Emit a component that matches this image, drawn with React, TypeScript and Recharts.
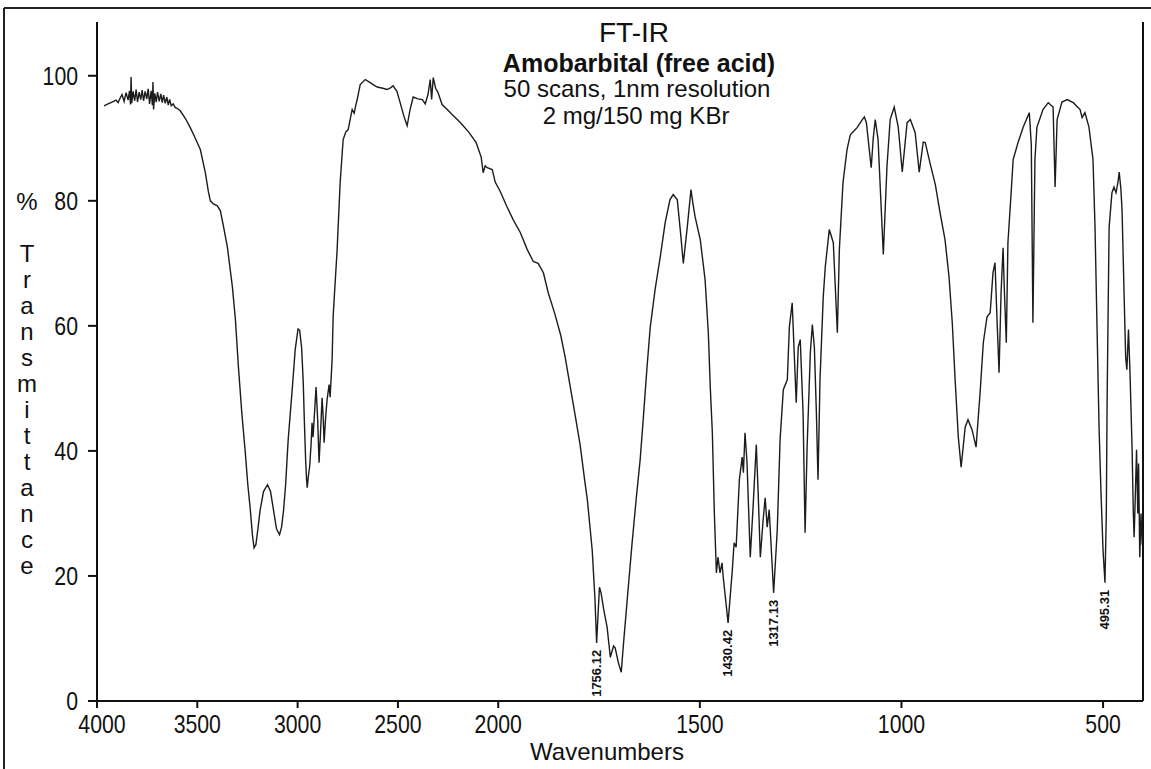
import { LineChart, Line, XAxis, YAxis, ReferenceLine, ReferenceDot } from "recharts";

/* %T, wavenumbers in cm-1 from high to low */
const chStretch: [number, number][] = [
  [3965, 95.2], [3945, 95.5], [3925, 95.8], [3905, 96.1], [3895, 95.7], [3885, 96.4],
  [3875, 97.0], [3865, 95.9], [3855, 97.3], [3845, 96.1], [3838, 97.6], [3833, 95.4],
  [3830, 99.8], [3827, 95.6], [3820, 97.5], [3812, 96.0], [3805, 97.8], [3798, 95.8],
  [3790, 97.4], [3782, 96.2], [3775, 97.7], [3768, 96.0], [3760, 97.5], [3752, 96.3],
  [3745, 97.9], [3738, 95.5], [3730, 97.6], [3724, 95.3], [3721, 99.0], [3718, 94.6],
  [3712, 97.2], [3705, 95.8], [3698, 97.4], [3690, 95.9], [3682, 97.1], [3675, 95.7],
  [3668, 96.9], [3660, 95.6], [3652, 96.6], [3645, 95.3], [3638, 96.2], [3630, 95.2],
  [3620, 95.5], [3610, 94.9], [3600, 94.8], [3585, 94.4], [3560, 93.2], [3535, 91.7],
  [3510, 90.0], [3485, 88.2], [3460, 84.5], [3445, 81.5], [3435, 80.0], [3420, 79.5],
  [3400, 79.2], [3385, 78.4], [3370, 76.0], [3350, 72.6], [3325, 66.2], [3310, 61.0],
  [3295, 53.4], [3278, 46.0], [3262, 40.2], [3248, 34.5], [3237, 31.0], [3225, 26.5],
  [3217, 24.5], [3208, 25.0], [3198, 27.5], [3187, 30.5], [3170, 33.5], [3150, 34.6],
  [3135, 33.5], [3120, 30.5], [3105, 27.5], [3090, 26.6], [3080, 27.8], [3070, 30.5],
  [3060, 34.5], [3047, 41.8], [3027, 49.8], [3012, 56.2], [2998, 59.5], [2990, 59.3],
  [2980, 56.5], [2972, 51.0], [2967, 45.4], [2960, 38.5], [2955, 35.2], [2952, 34.1],
  [2947, 35.8], [2940, 37.5], [2933, 41.0], [2928, 44.5], [2923, 42.2], [2915, 46.5],
  [2908, 50.2], [2900, 45.0], [2893, 38.1], [2885, 43.5], [2878, 48.5], [2872, 45.0],
  [2868, 41.3], [2860, 45.5], [2853, 48.2], [2843, 50.6], [2838, 48.6], [2828, 54.6],
  [2823, 61.4], [2818, 64.2], [2803, 72.2],
];

const midRange: [number, number][] = [
  [2788, 82.9], [2773, 89.8], [2760, 91.0], [2748, 91.4], [2735, 93.5], [2728, 94.6],
  [2718, 94.0], [2710, 95.3], [2703, 96.2], [2688, 98.6], [2663, 99.4], [2638, 98.9],
  [2620, 98.5], [2603, 98.2], [2575, 98.0], [2554, 97.8], [2535, 98.1], [2524, 98.4],
  [2505, 97.5], [2489, 95.7], [2470, 93.5], [2454, 92.0], [2440, 94.5], [2424, 96.6],
  [2400, 96.3], [2378, 96.2], [2364, 95.5], [2350, 97.0], [2339, 99.4], [2332, 96.2],
  [2324, 99.7], [2312, 98.0], [2300, 97.3], [2280, 95.4], [2254, 94.6], [2230, 93.8],
  [2204, 93.0], [2180, 92.2], [2145, 90.9], [2110, 89.3], [2085, 87.0], [2075, 84.5],
  [2065, 85.6], [2055, 85.3], [2030, 85.0], [2015, 83.0],
];

const carbonyl: [number, number][] = [
  [1995, 81.5], [1978, 79.0], [1963, 77.0], [1945, 74.9], [1928, 72.2], [1913, 70.3],
  [1901, 70.0], [1888, 68.5], [1876, 65.3], [1860, 62.0], [1845, 58.5], [1834, 55.0],
  [1822, 50.5], [1810, 46.0], [1797, 41.0], [1785, 35.0], [1779, 32.2], [1767, 24.2],
  [1760, 16.2], [1756, 9.3], [1749, 18.2], [1745, 17.3], [1738, 14.5], [1730, 11.8],
  [1722, 7.0], [1714, 8.8], [1710, 8.5], [1702, 6.1], [1695, 4.6], [1688, 10.2],
  [1678, 17.8], [1668, 25.3], [1658, 32.2], [1648, 38.6], [1640, 45.4], [1631, 53.4],
  [1623, 59.8], [1611, 65.8], [1598, 71.1], [1586, 76.5], [1574, 80.2], [1566, 81.0],
  [1560, 80.5], [1556, 80.2], [1548, 75.0], [1541, 70.0], [1531, 75.9], [1522, 81.8],
  [1517, 79.5], [1512, 77.5],
];

const fingerprint: [number, number][] = [
  [1499, 73.8], [1487, 67.4], [1479, 58.9], [1474, 50.0], [1469, 42.9], [1464, 30.0],
  [1459, 20.5], [1455, 23.0], [1450, 20.5], [1445, 22.1], [1442, 19.8], [1436, 16.2],
  [1430, 12.5], [1420, 20.5], [1415, 25.3], [1410, 24.6], [1402, 35.4], [1395, 39.0],
  [1392, 36.5], [1388, 42.9], [1383, 38.1], [1375, 23.0], [1368, 31.0], [1360, 41.0],
  [1355, 32.6], [1350, 23.0], [1343, 29.0], [1338, 32.5], [1333, 27.8], [1328, 30.6],
  [1321, 22.1], [1317, 17.3], [1308, 27.4], [1301, 41.8], [1293, 49.8], [1283, 51.4],
  [1278, 59.8], [1271, 63.7], [1266, 55.7], [1261, 47.7], [1256, 56.6], [1251, 57.8],
  [1244, 46.1], [1239, 26.9], [1234, 40.6], [1226, 55.7], [1221, 60.2], [1216, 56.6],
  [1211, 46.1], [1207, 35.4], [1202, 51.4], [1194, 64.6], [1189, 69.4], [1179, 75.4],
  [1169, 73.3], [1159, 58.9], [1154, 72.2], [1145, 82.9], [1135, 88.2], [1127, 90.5],
  [1122, 90.9], [1110, 91.7], [1097, 93.0], [1092, 93.4], [1087, 92.5], [1075, 85.3],
  [1070, 90.0], [1065, 93.0], [1058, 89.8], [1045, 71.4], [1036, 85.4], [1028, 93.0],
  [1018, 95.0], [1008, 91.8], [998, 84.6], [986, 92.5], [978, 93.0], [966, 90.9],
  [956, 84.6], [946, 89.4], [941, 89.3], [929, 86.0], [916, 82.6], [904, 78.0],
  [892, 73.8], [882, 67.8], [874, 60.5], [867, 51.5], [859, 42.2], [852, 37.4],
  [842, 43.8], [835, 45.0], [825, 43.4], [815, 40.6], [805, 49.3], [797, 57.3],
  [788, 61.4], [780, 62.1], [773, 68.5], [768, 70.1], [763, 61.0], [758, 52.5],
  [753, 65.3], [748, 72.5], [745, 66.0], [740, 57.3], [736, 73.3], [728, 81.3],
  [723, 86.6], [711, 89.3], [698, 91.8], [683, 94.1], [678, 89.0], [674, 60.5],
  [669, 86.6], [664, 91.8], [649, 94.6], [636, 95.7], [624, 95.0], [619, 82.2],
  [614, 93.0], [602, 95.8], [589, 96.2], [574, 95.7], [557, 94.6], [552, 93.3],
  [545, 94.1], [535, 91.8], [525, 86.6], [520, 75.8], [515, 59.8], [510, 43.8],
  [505, 33.0], [500, 24.0], [495.3, 18.9], [492, 30.0], [490, 48.0], [487, 65.0],
  [485, 75.8], [478, 81.3], [473, 82.2], [468, 81.3], [463, 83.0], [460, 84.6],
  [456, 82.0], [453, 78.6], [448, 65.3], [444, 55.0], [441, 53.0], [437, 59.4],
  [433, 52.0], [428, 40.2], [425, 30.0], [423, 26.2], [420, 33.0], [417, 40.2],
  [414, 30.0], [412, 38.0], [409, 23.0], [406, 30.0], [403, 25.0], [401, 27.0],
];

const peakLabels = [
  { wn: 1756.12, t: 9.3 },
  { wn: 1430.42, t: 12.5 },
  { wn: 1317.13, t: 17.3 },
  { wn: 495.31, t: 18.9 },
];

const xTickLabels = [4000, 3500, 3000, 2500, 2000, 1500, 1000, 500];
const yTickLabels = [0, 20, 40, 60, 80, 100];
const titleLines = ["FT-IR", "Amobarbital (free acid)", "50 scans, 1nm resolution", "2 mg/150 mg KBr"];
const yLabel = "Transmittance";

// the wavenumber axis changes scale at 2000: below it each cm-1 takes ~2x the room
const SPLIT = 2000;
const STRETCH = 2.01;
const toPos = (wn: number) => (wn >= SPLIT ? 4000 - wn : SPLIT + STRETCH * (SPLIT - wn));
const X_MAX = toPos(401);

const rows = [...chStretch, ...midRange, ...carbonyl, ...fingerprint].map(([wn, t]) => ({
  pos: toPos(wn),
  t,
}));

const SANS = "'Liberation Sans', Arial, sans-serif";
const INK = "#111";

function tickText(v: number) {
  const w = xTickLabels.find((x) => Math.abs(toPos(x) - v) < 1e-6);
  return w === undefined ? "" : String(w);
}

// no condensed face installed, so squeeze the sans horizontally like the old plotter font
function XTick(props: any) {
  const { x, y, payload } = props;
  const label = tickText(payload.value);
  // first label sits a little right of its tick, as on the printout
  const nudge = label === "4000" ? 5 : 0;
  return (
    <text
      transform={`translate(${x + nudge},${y}) scale(0.85,1)`}
      textAnchor="middle"
      dy="0.71em"
      fontSize={25}
      fontFamily={SANS}
      fill={INK}
    >
      {label}
    </text>
  );
}

function YTick(props: any) {
  const { x, y, payload } = props;
  return (
    <text
      transform={`translate(${x},${y}) scale(0.85,1)`}
      textAnchor="end"
      dy="0.355em"
      fontSize={25}
      fontFamily={SANS}
      fill={INK}
    >
      {payload.value}
    </text>
  );
}

function peakTag(text: string) {
  return (props: any) => {
    const vb = props.viewBox;
    const cx = vb.x + vb.width / 2;
    const cy = vb.y + vb.height / 2;
    return (
      <text
        transform={`translate(${cx + 4.5},${cy + 7}) rotate(-90)`}
        textAnchor="end"
        fontSize={13}
        fontWeight="bold"
        fontFamily={SANS}
        fill={INK}
      >
        {text}
      </text>
    );
  };
}

export default function App() {
  return (
    <div style={{ position: "absolute", left: 0, top: 0, width: 1151, height: 769, background: "#fff" }}>
      <LineChart width={1151} height={769} data={rows} margin={{ top: 22, right: 8, left: 37, bottom: 28 }}>
        <XAxis
          dataKey="pos"
          type="number"
          domain={[0, X_MAX]}
          ticks={xTickLabels.map(toPos)}
          interval={0}
          allowDataOverflow
          height={40}
          tickSize={7}
          tickMargin={7}
          axisLine={{ stroke: INK, strokeWidth: 2 }}
          tickLine={{ stroke: INK, strokeWidth: 2 }}
          tick={<XTick />}
        />
        <YAxis
          type="number"
          domain={[0, 108.6]}
          ticks={yTickLabels}
          interval={0}
          allowDataOverflow
          width={60}
          tickSize={9}
          tickMargin={10}
          axisLine={{ stroke: INK, strokeWidth: 2 }}
          tickLine={{ stroke: INK, strokeWidth: 2 }}
          tick={<YTick />}
        />
        <ReferenceLine x={X_MAX} stroke={INK} strokeWidth={2} />
        <Line
          type="linear"
          dataKey="t"
          stroke="#1c1c1c"
          strokeWidth={1.4}
          dot={false}
          isAnimationActive={false}
        />
        {peakLabels.map((p) => (
          <ReferenceDot
            key={p.wn}
            x={toPos(p.wn)}
            y={p.t}
            r={1}
            fill="none"
            stroke="none"
            label={peakTag(p.wn.toFixed(2))}
          />
        ))}
      </LineChart>
      <svg
        width={1151}
        height={769}
        style={{ position: "absolute", left: 0, top: 0, pointerEvents: "none" }}
      >
        <line x1={4} y1={8} x2={1151} y2={8} stroke="#222" strokeWidth={2} />
        <line x1={4} y1={8} x2={4} y2={769} stroke="#222" strokeWidth={2} />
        <g fontFamily={SANS} fill={INK} textAnchor="middle">
          <text x={634} y={42} fontSize={28}>{titleLines[0]}</text>
          <text x={639} y={72} fontSize={25} fontWeight="bold">{titleLines[1]}</text>
          <text x={637} y={97} fontSize={24}>{titleLines[2]}</text>
          <text x={636} y={124} fontSize={24}>{titleLines[3]}</text>
          <text x={27} y={210} fontSize={24}>%</text>
          {yLabel.split("").map((ch, i) => (
            <text key={i} x={27} y={262 + 26 * i} fontSize={24}>
              {ch}
            </text>
          ))}
        </g>
        <text x={607} y={760} fontSize={24} fontFamily={SANS} fill={INK} textAnchor="middle">
          Wavenumbers
        </text>
      </svg>
    </div>
  );
}
